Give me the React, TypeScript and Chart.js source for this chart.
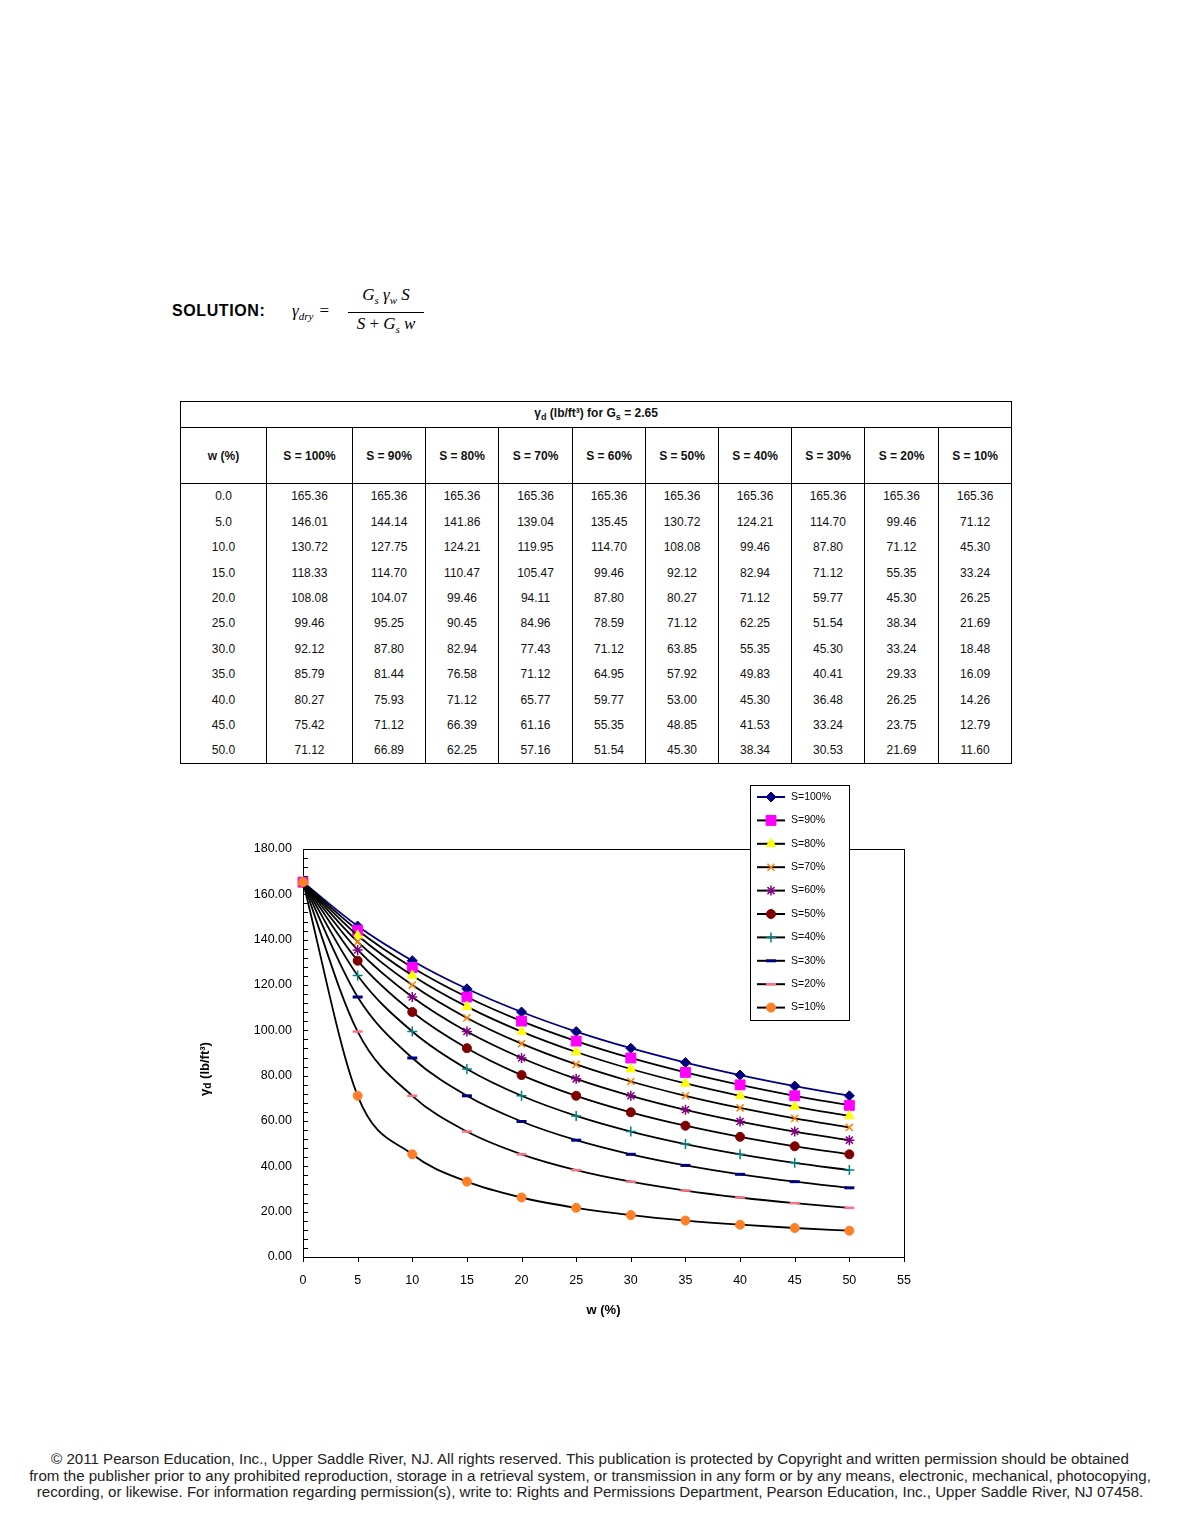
import React, { useEffect, useRef } from "react";
import { Chart, registerables } from "chart.js";
import { drawPoint } from "chart.js/helpers";

Chart.register(...registerables);

// ---------------- data ----------------
const W_PCT = [0, 5, 10, 15, 20, 25, 30, 35, 40, 45, 50];
const S_LABELS = ["S=100%", "S=90%", "S=80%", "S=70%", "S=60%", "S=50%", "S=40%", "S=30%", "S=20%", "S=10%"];
const S_HEADERS = ["S = 100%", "S = 90%", "S = 80%", "S = 70%", "S = 60%", "S = 50%", "S = 40%", "S = 30%", "S = 20%", "S = 10%"];
const GD_S100 = [165.36, 146.01, 130.72, 118.33, 108.08, 99.46, 92.12, 85.79, 80.27, 75.42, 71.12];
const GD_S90 = [165.36, 144.14, 127.75, 114.7, 104.07, 95.25, 87.8, 81.44, 75.93, 71.12, 66.89];
const GD_S80 = [165.36, 141.86, 124.21, 110.47, 99.46, 90.45, 82.94, 76.58, 71.12, 66.39, 62.25];
const GD_S70 = [165.36, 139.04, 119.95, 105.47, 94.11, 84.96, 77.43, 71.12, 65.77, 61.16, 57.16];
const GD_S60 = [165.36, 135.45, 114.7, 99.46, 87.8, 78.59, 71.12, 64.95, 59.77, 55.35, 51.54];
const GD_S50 = [165.36, 130.72, 108.08, 92.12, 80.27, 71.12, 63.85, 57.92, 53.0, 48.85, 45.3];
const GD_S40 = [165.36, 124.21, 99.46, 82.94, 71.12, 62.25, 55.35, 49.83, 45.3, 41.53, 38.34];
const GD_S30 = [165.36, 114.7, 87.8, 71.12, 59.77, 51.54, 45.3, 40.41, 36.48, 33.24, 30.53];
const GD_S20 = [165.36, 99.46, 71.12, 55.35, 45.3, 38.34, 33.24, 29.33, 26.25, 23.75, 21.69];
const GD_S10 = [165.36, 71.12, 45.3, 33.24, 26.25, 21.69, 18.48, 16.09, 14.26, 12.79, 11.6];
const SERIES = [GD_S100, GD_S90, GD_S80, GD_S70, GD_S60, GD_S50, GD_S40, GD_S30, GD_S20, GD_S10];
const X_MIN = 0;
const X_MAX = 55;
const X_STEP = 5;
const Y_MIN = 0;
const Y_MAX = 180;
const Y_STEP = 20;
const Y_MINOR = 4;

// ---------------- styles ----------------
const MARKER_STYLE = ["rectRot", "rect", "triangle", "crossRot", "star", "circle", "cross", "line", "line", "circle"];
const MARKER_COLOR = ["#000080", "#FF00FF", "#FFFF00", "#FF8000", "#800080", "#800000", "#008080", "#000080", "#FF7080", "#FF7F27"];
const MARKER_RADIUS = [5, 7, 5.5, 5, 5, 4.5, 5, 5, 5, 4.5];
const MARKER_BORDER = [1, 1, 1, 1.5, 1.5, 1, 1.5, 3, 2.5, 1];
const LINE_COLOR = ["#000080", "#000", "#000", "#000", "#000", "#000", "#000", "#000", "#000", "#000"];

const FONT = "Arial, 'Liberation Sans', Helvetica, sans-serif";

// canvas placement (page coords)
const CV_LEFT = 190;
const CV_TOP = 770;
const CV_W = 740;
const CV_H = 552;

function ChartBox() {
  const ref = useRef<HTMLCanvasElement | null>(null);
  useEffect(() => {
    if (!ref.current) return;
    const datasets = SERIES.map((vals, i) => ({
      label: S_LABELS[i],
      data: W_PCT.map((w, j) => ({ x: w, y: vals[j] })),
      borderColor: LINE_COLOR[i],
      borderWidth: 1.8,
      backgroundColor: MARKER_COLOR[i],
      pointStyle: MARKER_STYLE[i] as any,
      pointRadius: MARKER_RADIUS[i],
      pointBorderColor: MARKER_COLOR[i],
      pointBackgroundColor: MARKER_COLOR[i],
      pointBorderWidth: MARKER_BORDER[i],
      cubicInterpolationMode: "monotone" as const,
      tension: 0.4,
      fill: false,
      clip: false as any,
      order: SERIES.length - i,
    }));

    const framePlugin = {
      id: "frame",
      beforeDatasetsDraw(chart: any) {
        const { ctx, chartArea } = chart;
        const ys = chart.scales.y;
        const xs = chart.scales.x;
        ctx.save();
        ctx.strokeStyle = "#000";
        ctx.lineWidth = 1;
        ctx.strokeRect(Math.round(chartArea.left) + 0.5, Math.round(chartArea.top) + 0.5,
          Math.round(chartArea.right - chartArea.left), Math.round(chartArea.bottom - chartArea.top));
        ctx.beginPath();
        for (let v = Y_MIN; v <= Y_MAX; v += Y_MINOR) {
          const py = Math.round(ys.getPixelForValue(v)) + 0.5;
          ctx.moveTo(chartArea.left, py);
          ctx.lineTo(chartArea.left + 5, py);
        }
        for (let v = X_MIN; v <= X_MAX; v += X_STEP) {
          const px = Math.round(xs.getPixelForValue(v)) + 0.5;
          ctx.moveTo(px, chartArea.bottom);
          ctx.lineTo(px, chartArea.bottom + 5);
        }
        ctx.stroke();
        ctx.restore();
      },
      afterDraw(chart: any) {
        const { ctx, chartArea } = chart;
        ctx.save();
        // y title
        ctx.translate(15, (chartArea.top + chartArea.bottom) / 2 + 16);
        ctx.rotate(-Math.PI / 2);
        ctx.fillStyle = "#000";
        ctx.textBaseline = "middle";
        const main = "γ";
        const sub = "d";
        const rest = " (lb/ft³)";
        ctx.font = `bold 13px ${FONT}`;
        const w1 = ctx.measureText(main).width;
        const w3 = ctx.measureText(rest).width;
        ctx.font = `bold 10px ${FONT}`;
        const w2 = ctx.measureText(sub).width;
        const total = w1 + w2 + w3;
        let x = -total / 2;
        ctx.textAlign = "left";
        ctx.font = `bold 13px ${FONT}`;
        ctx.fillText(main, x, 0);
        x += w1;
        ctx.font = `bold 10px ${FONT}`;
        ctx.fillText(sub, x, 3);
        x += w2;
        ctx.font = `bold 13px ${FONT}`;
        ctx.fillText(rest, x, 0);
        ctx.restore();

        // legend
        const lx = 750 - CV_LEFT, ly = 785 - CV_TOP, lw = 99, lh = 235;
        ctx.save();
        ctx.fillStyle = "#fff";
        ctx.fillRect(lx, ly, lw, lh);
        ctx.strokeStyle = "#000";
        ctx.lineWidth = 1;
        ctx.strokeRect(lx + 0.5, ly + 0.5, lw, lh);
        chart.data.datasets.forEach((ds: any, i: number) => {
          const y = ly + 12 + i * 23.4;
          ctx.strokeStyle = LINE_COLOR[i];
          ctx.lineWidth = 2;
          ctx.beginPath();
          ctx.moveTo(lx + 7, y);
          ctx.lineTo(lx + 35, y);
          ctx.stroke();
          ctx.fillStyle = MARKER_COLOR[i];
          ctx.strokeStyle = MARKER_COLOR[i];
          ctx.lineWidth = MARKER_BORDER[i];
          drawPoint(ctx, { pointStyle: MARKER_STYLE[i], radius: MARKER_RADIUS[i], rotation: 0, borderWidth: MARKER_BORDER[i] } as any, lx + 21, y);
          ctx.fillStyle = "#000";
          ctx.font = `10.5px ${FONT}`;
          ctx.textAlign = "left";
          ctx.textBaseline = "middle";
          ctx.fillText(ds.label, lx + 41, y);
        });
        ctx.restore();
      },
    };

    const chart = new Chart(ref.current, {
      type: "line",
      data: { datasets: datasets as any },
      options: {
        animation: false,
        responsive: false,
        maintainAspectRatio: false,
        devicePixelRatio: 1,
        layout: { padding: { top: 849 - CV_TOP, right: CV_LEFT + CV_W - 904, left: 0, bottom: 0 } },
        plugins: { legend: { display: false }, tooltip: { enabled: false } },
        scales: {
          x: {
            type: "linear",
            min: X_MIN,
            max: X_MAX,
            grid: { display: false, drawTicks: false },
            border: { display: false },
            ticks: { stepSize: X_STEP, color: "#000", font: { family: FONT, size: 12.5 }, padding: 16, autoSkip: false, maxRotation: 0 },
            title: { display: true, text: "w (%)", color: "#000", font: { family: FONT, size: 13, weight: "bold" }, padding: { top: 0, bottom: 4 } },
            afterFit: (s: any) => { s.height = CV_TOP + CV_H - 1257; },
          },
          y: {
            type: "linear",
            min: Y_MIN,
            max: Y_MAX,
            grid: { display: false, drawTicks: false },
            border: { display: false },
            ticks: {
              stepSize: Y_STEP,
              color: "#000",
              font: { family: FONT, size: 12.5 },
              padding: 11,
              autoSkip: false,
              callback: (v: any) => Number(v).toFixed(2),
            },
            afterFit: (s: any) => { s.width = 303 - CV_LEFT; },
          },
        },
      },
      plugins: [framePlugin],
    } as any);
    return () => chart.destroy();
  }, []);
  return (
    <canvas
      ref={ref}
      width={CV_W}
      height={CV_H}
      style={{ position: "absolute", left: CV_LEFT, top: CV_TOP, width: CV_W, height: CV_H }}
    />
  );
}

const COL_W = [86, 86, 73, 73, 74, 73, 73, 73, 73, 74, 73];

function DataTable() {
  const bd = "1px solid #000";
  const cellBase: React.CSSProperties = { padding: 0, textAlign: "center", verticalAlign: "middle", fontFamily: FONT, fontSize: 12, color: "#111" };
  return (
    <table
      style={{
        position: "absolute",
        left: 180,
        top: 401,
        width: 831,
        borderCollapse: "collapse",
        tableLayout: "fixed",
      }}
    >
      <colgroup>
        {COL_W.map((w, i) => <col key={i} style={{ width: w }} />)}
      </colgroup>
      <tbody>
        <tr style={{ height: 26 }}>
          <td colSpan={11} style={{ ...cellBase, border: bd, fontSize: 12, fontWeight: "bold" }}>
            γ<sub style={{ fontSize: 9 }}>d</sub> (lb/ft³) for G<sub style={{ fontSize: 9 }}>s</sub> = 2.65
          </td>
        </tr>
        <tr style={{ height: 56 }}>
          <td style={{ ...cellBase, border: bd, fontWeight: "bold", fontSize: 12 }}>w (%)</td>
          {S_HEADERS.map((h, i) => (
            <td key={i} style={{ ...cellBase, border: bd, fontWeight: "bold", fontSize: 12 }}>{h}</td>
          ))}
        </tr>
        {W_PCT.map((w, r) => (
          <tr key={r} style={{ height: 25.45 }}>
            <td style={{ ...cellBase, borderLeft: bd, borderRight: bd, borderBottom: r === W_PCT.length - 1 ? bd : "none" }}>{w.toFixed(1)}</td>
            {SERIES.map((s, c) => (
              <td key={c} style={{ ...cellBase, borderLeft: bd, borderRight: bd, borderBottom: r === W_PCT.length - 1 ? bd : "none" }}>
                {s[r].toFixed(2)}
              </td>
            ))}
          </tr>
        ))}
      </tbody>
    </table>
  );
}

function Formula() {
  const it: React.CSSProperties = { fontFamily: "'Liberation Serif', 'DejaVu Serif', serif", fontStyle: "italic", fontSize: 17 };
  const sub: React.CSSProperties = { fontSize: 11, verticalAlign: -4 };
  return (
    <>
      <div style={{ position: "absolute", left: 172, top: 302, fontFamily: FONT, fontWeight: "bold", fontSize: 16, letterSpacing: 0.6 }}>
        SOLUTION:
      </div>
      <div style={{ position: "absolute", left: 292, top: 301, ...it, whiteSpace: "nowrap" }}>
        γ<span style={sub}>dry</span>
        <span style={{ fontStyle: "normal", marginLeft: 6 }}>=</span>
      </div>
      <div style={{ position: "absolute", left: 346, top: 285, width: 80, textAlign: "center", ...it }}>
        <div style={{ lineHeight: "20px", whiteSpace: "nowrap" }}>
          G<span style={sub}>s</span> γ<span style={sub}>w</span> S
        </div>
        <div style={{ borderTop: "1px solid #000", margin: "2px 2px 0 2px" }} />
        <div style={{ lineHeight: "22px", whiteSpace: "nowrap" }}>
          S <span style={{ fontStyle: "normal" }}>+</span> G<span style={sub}>s</span> w
        </div>
      </div>
    </>
  );
}

const FOOTER_LINES = [
  "© 2011 Pearson Education, Inc., Upper Saddle River, NJ. All rights reserved. This publication is protected by Copyright and written permission should be obtained",
  "from the publisher prior to any prohibited reproduction, storage in a retrieval system, or transmission in any form or by any means, electronic, mechanical, photocopying,",
  "recording, or likewise. For information regarding permission(s), write to: Rights and Permissions Department, Pearson Education, Inc., Upper Saddle River, NJ 07458.",
];

function Footer() {
  return (
    <div style={{ position: "absolute", left: 0, top: 1451, width: 1180, textAlign: "center", fontFamily: FONT, fontSize: 15.1, lineHeight: "16.5px", color: "#222" }}>
      {FOOTER_LINES.map((l, i) => (
        <div key={i} style={{ whiteSpace: "nowrap" }}>{l}</div>
      ))}
    </div>
  );
}

export default function App() {
  return (
    <div style={{ position: "absolute", left: 0, top: 0, width: 1180, height: 1520, background: "#fff", overflow: "hidden" }}>
      <Formula />
      <DataTable />
      <ChartBox />
      <Footer />
    </div>
  );
}
